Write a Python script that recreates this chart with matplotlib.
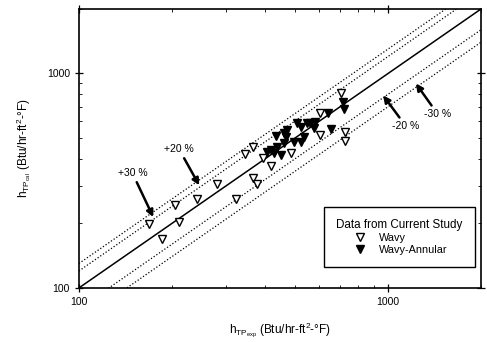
import matplotlib
matplotlib.use("Agg")
import matplotlib.pyplot as plt
import numpy as np

plt.rcParams['font.family'] = ['Liberation Sans', 'DejaVu Sans']
plt.rcParams['mathtext.fontset'] = 'custom'
plt.rcParams['mathtext.rm'] = 'Liberation Sans'
plt.rcParams['mathtext.it'] = 'Liberation Sans'

# Wavy (open triangles)
wavy_exp = [168, 186, 204, 211, 241, 280, 322, 344, 365, 365, 376, 393, 417, 484,
            604, 604, 706, 728, 728]
wavy_cal = [199, 169, 243, 203, 259, 305, 259, 420, 453, 325, 305, 402, 369, 425,
            652, 515, 807, 532, 483]

# Wavy-Annular (filled triangles)
wa_exp = [717, 722, 641, 582, 561, 545, 506, 521, 574, 656, 470, 460, 433, 466,
          533, 495, 521, 460, 436, 417, 405, 427, 450]
wa_cal = [733, 680, 652, 592, 585, 585, 585, 561, 555, 549, 543, 526, 509, 504,
          504, 478, 478, 473, 453, 438, 429, 425, 416]

lims = [100, 2000]
bands = [1.3, 1.2, 0.8, 0.7]

fig = plt.figure(figsize=(4.87, 3.42), dpi=100)
ax = fig.add_axes([0.162, 0.158, 0.826, 0.816])

xx = np.array(lims, dtype=float)
ax.plot(xx, xx, color='black', lw=1.1)
for b in bands:
    ax.plot(xx, b * xx, color='black', lw=0.9, ls=(0, (1, 1.6)))

ax.plot(wavy_exp, wavy_cal, ls='none', marker='v', ms=5.5, mfc='white',
        mec='black', mew=1.0, label='Wavy')
ax.plot(wa_exp, wa_cal, ls='none', marker='v', ms=6, mfc='black',
        mec='black', label='Wavy-Annular')

ax.set_xscale('log')
ax.set_yscale('log')
ax.set_xlim(lims)
ax.set_ylim(lims)
ax.set_xticks([100, 1000])
ax.set_yticks([100, 1000])
ax.set_xticklabels(['100', '1000'])
ax.set_yticklabels(['100', '1000'])
ax.tick_params(which='major', direction='inout', length=6, width=0.9,
               top=True, right=True, labelsize=7.5)
ax.tick_params(which='minor', direction='in', length=2.5, width=0.6,
               top=True, right=True, labelbottom=False, labelleft=False)
for s in ax.spines.values():
    s.set_linewidth(1.2)

ax.set_xlabel(r'$h_{TP_{exp}}$ (Btu/hr-ft$^2$-°F)', fontsize=8.5, labelpad=10)
ax.set_ylabel(r'$h_{TP_{cal}}$ (Btu/hr-ft$^2$-°F)', fontsize=8.5, labelpad=10)

arrow = dict(arrowstyle='-|>', color='black', lw=1.8, mutation_scale=10,
             shrinkA=1, shrinkB=0)
ax.annotate('+30 %', xy=(174, 214), xytext=(149, 325), fontsize=7.5,
            ha='center', va='bottom', arrowprops=arrow)
ax.annotate('+20 %', xy=(245, 301), xytext=(211, 420), fontsize=7.5,
            ha='center', va='bottom', arrowprops=arrow)
ax.annotate('-20 %', xy=(964, 790), xytext=(1143, 598), fontsize=7.5,
            ha='center', va='top', arrowprops=arrow)
ax.annotate('-30 %', xy=(1230, 898), xytext=(1449, 680), fontsize=7.5,
            ha='center', va='top', arrowprops=arrow)

leg = ax.legend(loc='lower right', bbox_to_anchor=(0.997, 0.055),
                title='Data from Current Study', fontsize=7.8, title_fontsize=8.4,
                fancybox=False, edgecolor='black', framealpha=1,
                borderpad=1.1, handletextpad=0.9, labelspacing=0.2,
                handlelength=1.6)
leg.get_frame().set_linewidth(1.0)

fig.savefig('out.png', dpi=100)
